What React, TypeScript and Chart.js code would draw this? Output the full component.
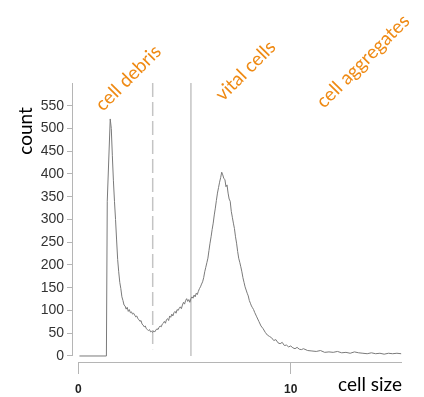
import React, { useEffect, useRef } from "react";
import { Chart, registerables } from "chart.js";

Chart.register(...registerables);

// cell size (x) and event count (y)
const cellSizes = [
  0.05, 1.32, 1.36, 1.5, 1.55, 1.6, 1.65, 1.7, 1.75, 1.8, 1.85, 1.9, 1.95, 2.0, 2.05, 2.1, 2.15, 2.2, 2.25, 2.3,
  2.35, 2.4, 2.45, 2.5, 2.55, 2.6, 2.65, 2.7, 2.75, 2.8, 2.85, 2.9, 2.95, 3.0, 3.05, 3.1, 3.15, 3.2, 3.25, 3.3,
  3.35, 3.4, 3.45, 3.5, 3.55, 3.6, 3.65, 3.7, 3.75, 3.8, 3.85, 3.9, 3.95, 4.0, 4.05, 4.1, 4.15, 4.2, 4.25, 4.3,
  4.35, 4.4, 4.45, 4.5, 4.55, 4.6, 4.65, 4.7, 4.75, 4.8, 4.85, 4.9, 4.95, 5.0, 5.05, 5.1, 5.15, 5.2, 5.25, 5.3,
  5.35, 5.4, 5.45, 5.5, 5.55, 5.6, 5.65, 5.7, 5.75, 5.8, 5.85, 5.9, 5.95, 6.0, 6.05, 6.1, 6.15, 6.2, 6.25, 6.3,
  6.35, 6.4, 6.45, 6.5, 6.55, 6.6, 6.65, 6.7, 6.75, 6.8, 6.85, 6.9, 6.95, 7.0, 7.05, 7.1, 7.15, 7.2, 7.25, 7.3,
  7.35, 7.4, 7.45, 7.5, 7.55, 7.6, 7.65, 7.7, 7.75, 7.8, 7.85, 7.9, 7.95, 8.0, 8.05, 8.1, 8.15, 8.2, 8.25, 8.3,
  8.4, 8.5, 8.6, 8.7, 8.8, 8.9, 9.0, 9.1, 9.2, 9.3, 9.4, 9.5, 9.6, 9.7, 9.8, 9.9, 10.0, 10.1, 10.2, 10.3,
  10.4, 10.5, 10.6, 10.8, 11.0, 11.2, 11.4, 11.6, 11.8, 12.0, 12.2, 12.4, 12.6, 12.8, 13.0, 13.2, 13.4, 13.6, 13.8, 14.0,
  14.2, 14.4, 14.6, 14.8, 15.0, 15.2,
];

const counts = [
  0, 0, 340, 521, 500, 440, 385, 340, 300, 255, 212, 185, 162, 148, 130, 122, 112, 110, 103, 107,
  98, 102, 95, 97, 92, 94, 90, 86, 88, 82, 80, 76, 78, 70, 68, 64, 66, 60, 58, 56,
  58, 53, 54, 52, 55, 53, 57, 60, 58, 63, 66, 64, 70, 72, 76, 72, 80, 82, 78, 88,
  85, 92, 88, 95, 98, 94, 102, 100, 105, 108, 104, 112, 118, 114, 122, 126, 120, 124, 118, 126,
  130, 127, 134, 130, 138, 135, 142, 148, 152, 158, 163, 172, 185, 195, 205, 215, 232, 248, 262, 278,
  292, 310, 325, 342, 358, 370, 382, 392, 404, 398, 390, 388, 372, 376, 358, 345, 340, 318, 305, 292,
  280, 262, 248, 230, 215, 206, 196, 185, 172, 162, 152, 145, 138, 132, 122, 116, 110, 106, 102, 96,
  86, 76, 66, 60, 52, 46, 43, 40, 34, 36, 29, 27, 30, 23, 24, 20, 22, 18, 16, 19,
  15, 14, 16, 12, 11, 10, 12, 8, 9, 8, 10, 7, 8, 6, 9, 7, 6, 5, 7, 5,
  6, 4, 6, 5, 6, 5,
];

const yTickValues = [0, 50, 100, 150, 200, 250, 300, 350, 400, 450, 500, 550];
const xTickValues = [0, 10];

// gate boundaries (cell size)
const debrisGate = 3.5;
const vitalGate = 5.3;

const regionNames = ["cell debris", "vital cells", "cell aggregates"];
const xTitle = "cell size";
const yTitle = "count";

const ORANGE = "#EF8A14";
const TEXT_FONT = "Lato, 'Open Sans', sans-serif";

const decorPlugin = {
  id: "decor",
  beforeDatasetsDraw(chart: any) {
    const { ctx, chartArea, scales } = chart;
    const x = scales.x;
    const y = scales.y;
    ctx.save();
    ctx.strokeStyle = "#b5b5b5";
    ctx.lineWidth = 1;
    // y axis line
    ctx.beginPath();
    ctx.moveTo(chartArea.left + 0.5, chartArea.top);
    ctx.lineTo(chartArea.left + 0.5, y.getPixelForValue(0));
    ctx.stroke();
    // x axis line
    ctx.beginPath();
    ctx.moveTo(x.getPixelForValue(0), chartArea.bottom + 0.5);
    ctx.lineTo(chartArea.right, chartArea.bottom + 0.5);
    ctx.stroke();
    // gate lines
    ctx.strokeStyle = "#c4c4c4";
    ctx.lineWidth = 1.5;
    ctx.setLineDash([14, 5]);
    ctx.beginPath();
    ctx.moveTo(x.getPixelForValue(debrisGate), chartArea.top);
    ctx.lineTo(x.getPixelForValue(debrisGate), y.getPixelForValue(15));
    ctx.stroke();
    ctx.setLineDash([]);
    ctx.beginPath();
    ctx.moveTo(x.getPixelForValue(vitalGate), chartArea.top);
    ctx.lineTo(x.getPixelForValue(vitalGate), y.getPixelForValue(0));
    ctx.stroke();
    ctx.restore();
  },
  afterDraw(chart: any) {
    const { ctx } = chart;
    ctx.save();
    ctx.font = `19px ${TEXT_FONT}`;
    ctx.fillStyle = ORANGE;
    ctx.textAlign = "left";
    ctx.textBaseline = "alphabetic";
    const anchors = [
      [103, 112],
      [223, 102],
      [324, 109],
    ];
    regionNames.forEach((t, i) => {
      ctx.save();
      ctx.translate(anchors[i][0], anchors[i][1]);
      ctx.rotate(-Math.PI / 4);
      ctx.fillText(t, 0, 0);
      ctx.restore();
    });
    ctx.fillStyle = "#000";
    ctx.font = `19px ${TEXT_FONT}`;
    ctx.textAlign = "right";
    ctx.fillText(xTitle, 402, 391);
    ctx.save();
    ctx.translate(32, 131);
    ctx.rotate(-Math.PI / 2);
    ctx.textAlign = "center";
    ctx.fillText(yTitle, 0, 0);
    ctx.restore();
    ctx.restore();
  },
};

export default function App() {
  const ref = useRef<HTMLCanvasElement | null>(null);
  useEffect(() => {
    if (!ref.current) return;
    const chart = new Chart(ref.current, {
      type: "line",
      data: {
        datasets: [
          {
            data: cellSizes.map((s, i) => ({ x: s, y: counts[i] })),
            borderColor: "#7a7a7a",
            borderWidth: 1,
            pointRadius: 0,
            tension: 0,
            fill: false,
          },
        ],
      },
      options: {
        animation: false,
        responsive: false,
        events: [],
        layout: { padding: { left: 0, top: 83, right: 22, bottom: 0 } },
        plugins: { legend: { display: false }, tooltip: { enabled: false } },
        scales: {
          x: {
            type: "linear",
            min: -0.3,
            max: 15.24,
            afterFit: (s: any) => {
              s.height = 35;
            },
            afterBuildTicks: (s: any) => {
              s.ticks = xTickValues.map((v) => ({ value: v }));
            },
            border: { display: false },
            grid: { drawOnChartArea: false, drawTicks: true, tickLength: 12, color: "#b5b5b5" },
            ticks: {
              color: "#222",
              font: { family: "'Liberation Sans', Arial, sans-serif", size: 12, weight: "bold" },
              padding: 8,
              maxRotation: 0,
              autoSkip: false,
            },
          },
          y: {
            type: "linear",
            min: -13.2,
            max: 600,
            afterFit: (s: any) => {
              s.width = 72;
            },
            afterBuildTicks: (s: any) => {
              s.ticks = yTickValues.map((v) => ({ value: v }));
            },
            border: { display: false },
            grid: { drawOnChartArea: false, drawTicks: true, tickLength: 5, color: "#b5b5b5" },
            ticks: {
              color: "#333",
              font: { family: "'Liberation Sans', Arial, sans-serif", size: 14 },
              padding: 3,
              autoSkip: false,
            },
          },
        },
      },
      plugins: [decorPlugin],
    });
    return () => chart.destroy();
  }, []);
  return (
    <div style={{ position: "fixed", left: 0, top: 0, width: 424, height: 397, background: "#fff" }}>
      <canvas ref={ref} width={424} height={397} style={{ width: 424, height: 397 }} />
    </div>
  );
}
